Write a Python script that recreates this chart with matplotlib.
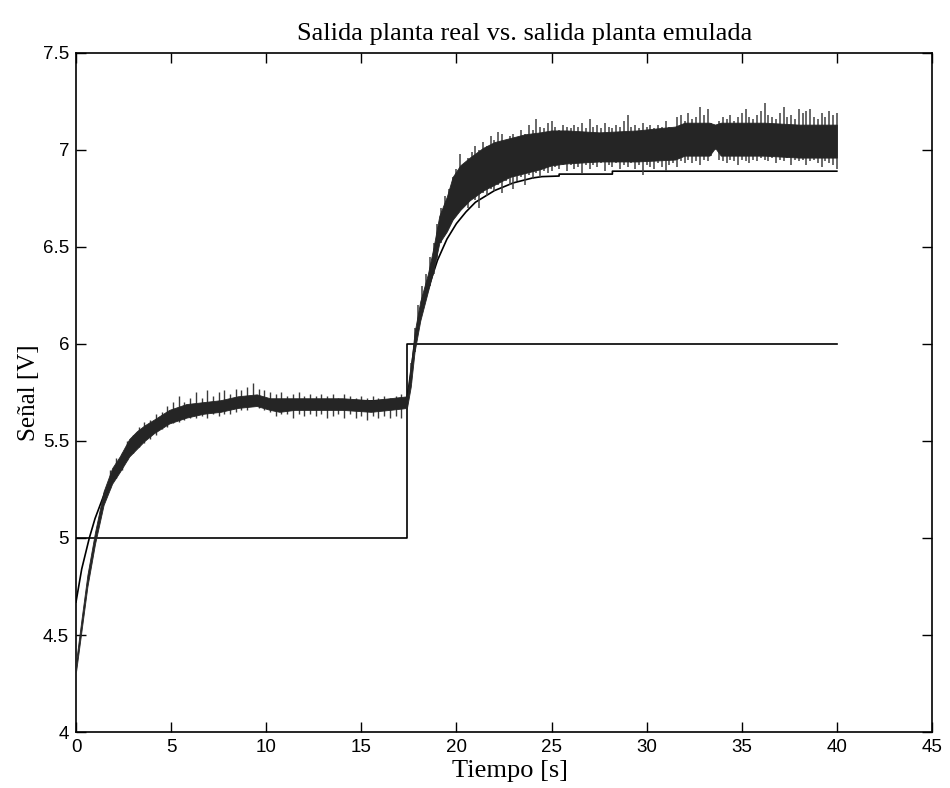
import numpy as np
import matplotlib
matplotlib.use("Agg")
import matplotlib.pyplot as plt

# ---------------- data ----------------
# reference (step) input
t_ref = [0.0, 17.4, 17.4, 40.0]
v_ref = [5.0, 5.0, 6.0, 6.0]

# emulated plant output (smooth line)
t_emul = [0.0, 0.3, 0.7, 1.0, 1.5, 2.0, 2.5, 3.0, 3.5, 4.0, 5.0, 6.0, 7.0, 8.0,
          10.0, 12.0, 17.4, 17.8, 18.2, 18.5, 19.0, 19.5, 20.0, 20.5, 21.0,
          21.5, 22.0, 23.0, 24.0, 24.5, 25.4, 25.4, 28.2, 28.2, 40.0]
v_emul = [4.67, 4.84, 5.00, 5.10, 5.23, 5.33, 5.41, 5.47, 5.52, 5.56, 5.62, 5.66,
          5.68, 5.69, 5.70, 5.70, 5.71, 6.00, 6.18, 6.28, 6.43, 6.54, 6.62, 6.68,
          6.73, 6.76, 6.79, 6.83, 6.855, 6.862, 6.865, 6.875, 6.875, 6.89, 6.89]

# real plant output: dense noisy core band (lower / upper edge)
t_core = [0.0, 0.3, 0.6, 1.0, 1.45, 1.9, 2.3, 2.8, 3.2, 3.6, 4.1, 4.9, 5.8, 6.7,
          7.6, 8.5, 9.5, 10.2, 10.7, 11.5, 12.8, 14.0, 15.5, 16.5, 17.4,
          17.6, 17.8, 18.1, 18.5, 18.8, 19.1, 19.5, 19.8, 20.2, 20.7, 21.4,
          22.0, 22.8, 23.6, 24.4, 25.0, 25.8, 27.5, 29.5, 31.5, 32.0, 33.3,
          33.6, 33.9, 36.2, 38.0, 40.0]
core_lo = [4.31, 4.53, 4.75, 4.97, 5.17, 5.28, 5.34, 5.42, 5.46, 5.50, 5.54, 5.59,
           5.62, 5.64, 5.65, 5.67, 5.68, 5.66, 5.65, 5.66, 5.66, 5.66, 5.65, 5.66,
           5.67, 5.78, 5.96, 6.12, 6.27, 6.38, 6.52, 6.58, 6.64, 6.69, 6.74, 6.79,
           6.82, 6.86, 6.88, 6.90, 6.92, 6.93, 6.94, 6.94, 6.95, 6.97, 6.97, 7.01,
           6.97, 6.97, 6.96, 6.96]
core_hi = [4.36, 4.59, 4.81, 5.03, 5.24, 5.36, 5.42, 5.51, 5.55, 5.58, 5.61, 5.66,
           5.69, 5.70, 5.71, 5.73, 5.74, 5.72, 5.72, 5.72, 5.72, 5.72, 5.71, 5.72,
           5.73, 5.88, 6.06, 6.22, 6.36, 6.50, 6.66, 6.76, 6.86, 6.92, 6.96, 7.01,
           7.04, 7.06, 7.08, 7.09, 7.10, 7.10, 7.09, 7.10, 7.12, 7.14, 7.14, 7.13,
           7.14, 7.14, 7.13, 7.13]

# real plant output: noise excursions, first level (time, low end, high end)
noise1_t = [1.8, 2.1, 2.4, 2.7, 3.0, 3.3, 3.6, 3.9, 4.2, 4.5, 4.8, 5.1, 5.4, 5.7,
            6.0, 6.3, 6.6, 6.9, 7.2, 7.5, 7.8, 8.1, 8.4, 8.7, 9.0, 9.3, 9.6, 9.9,
            10.2, 10.5, 10.8, 11.1, 11.4, 11.7, 12.0, 12.3, 12.6, 12.9, 13.2,
            13.5, 13.8, 14.1, 14.4, 14.7, 15.0, 15.3, 15.6, 15.9, 16.2, 16.5,
            16.8, 17.1]
noise1_lo = [5.26, 5.31, 5.35, 5.40, 5.44, 5.47, 5.49, 5.51, 5.53, 5.56, 5.57, 5.59,
             5.60, 5.61, 5.62, 5.62, 5.63, 5.62, 5.64, 5.63, 5.64, 5.64, 5.65, 5.66,
             5.66, 5.68, 5.67, 5.66, 5.65, 5.63, 5.64, 5.64, 5.62, 5.64, 5.63, 5.64,
             5.63, 5.64, 5.62, 5.63, 5.64, 5.62, 5.64, 5.62, 5.63, 5.61, 5.63, 5.62,
             5.63, 5.62, 5.63, 5.62]
noise1_hi = [5.35, 5.41, 5.44, 5.50, 5.53, 5.57, 5.60, 5.61, 5.64, 5.65, 5.68, 5.70,
             5.73, 5.70, 5.72, 5.75, 5.72, 5.76, 5.73, 5.75, 5.76, 5.74, 5.77, 5.76,
             5.78, 5.80, 5.77, 5.76, 5.75, 5.74, 5.75, 5.73, 5.74, 5.75, 5.73, 5.74,
             5.73, 5.74, 5.73, 5.74, 5.72, 5.74, 5.73, 5.72, 5.73, 5.72, 5.73, 5.72,
             5.73, 5.72, 5.73, 5.74]

# real plant output: noise excursions, second level (time, low end, high end)
noise2_t = [17.6, 17.8, 18.0, 18.2, 18.4, 18.6, 18.8, 19.0, 19.2, 19.4, 19.6, 19.8,
            20.0, 20.2, 20.4, 20.6, 20.8, 21.0, 21.2, 21.4, 21.6, 21.8, 22.0, 22.2,
            22.4, 22.6, 22.8, 23.0, 23.2, 23.4, 23.6, 23.8, 24.0, 24.2, 24.4, 24.6,
            24.8, 25.0, 25.2, 25.4, 25.6, 25.8, 26.0, 26.2, 26.4, 26.6, 26.8, 27.0,
            27.2, 27.4, 27.6, 27.8, 28.0, 28.2, 28.4, 28.6, 28.8, 29.0, 29.2, 29.4,
            29.6, 29.8, 30.0, 30.2, 30.4, 30.6, 30.8, 31.0, 31.2, 31.4, 31.6, 31.8,
            32.0, 32.2, 32.4, 32.6, 32.8, 33.0, 33.2, 33.4, 33.6, 33.8, 34.0, 34.2,
            34.4, 34.6, 34.8, 35.0, 35.2, 35.4, 35.6, 35.8, 36.0, 36.2, 36.4, 36.6,
            36.8, 37.0, 37.2, 37.4, 37.6, 37.8, 38.0, 38.2, 38.4, 38.6, 38.8, 39.0,
            39.2, 39.4, 39.6, 39.8, 40.0]
noise2_lo = [5.80, 5.96, 6.08, 6.16, 6.24, 6.30, 6.36, 6.44, 6.52, 6.56, 6.60, 6.64,
             6.66, 6.70, 6.72, 6.70, 6.75, 6.74, 6.70, 6.78, 6.76, 6.80, 6.79, 6.82,
             6.78, 6.84, 6.82, 6.80, 6.84, 6.86, 6.82, 6.87, 6.85, 6.88, 6.86, 6.89,
             6.88, 6.89, 6.91, 6.90, 6.92, 6.89, 6.92, 6.90, 6.91, 6.88, 6.92, 6.90,
             6.92, 6.91, 6.93, 6.89, 6.92, 6.91, 6.93, 6.90, 6.92, 6.91, 6.93, 6.90,
             6.92, 6.87, 6.92, 6.91, 6.90, 6.93, 6.91, 6.89, 6.92, 6.93, 6.91, 6.94,
             6.93, 6.95, 6.93, 6.94, 6.92, 6.95, 6.94, 6.97, 7.00, 6.95, 6.94, 6.93,
             6.95, 6.94, 6.92, 6.95, 6.94, 6.93, 6.95, 6.94, 6.96, 6.95, 6.94, 6.96,
             6.93, 6.95, 6.94, 6.96, 6.92, 6.95, 6.94, 6.95, 6.92, 6.94, 6.95, 6.93,
             6.91, 6.94, 6.93, 6.92, 6.90]
noise2_hi = [5.90, 6.08, 6.20, 6.30, 6.36, 6.45, 6.52, 6.62, 6.70, 6.76, 6.80, 6.86,
             6.90, 6.98, 6.92, 6.96, 6.99, 7.02, 7.00, 7.04, 7.02, 7.07, 7.05, 7.09,
             7.08, 7.05, 7.07, 7.08, 7.06, 7.10, 7.08, 7.13, 7.10, 7.16, 7.12, 7.11,
             7.14, 7.15, 7.12, 7.10, 7.13, 7.12, 7.11, 7.13, 7.12, 7.14, 7.11, 7.16,
             7.12, 7.13, 7.11, 7.14, 7.12, 7.11, 7.13, 7.12, 7.15, 7.18, 7.12, 7.13,
             7.11, 7.14, 7.12, 7.13, 7.11, 7.13, 7.12, 7.15, 7.12, 7.11, 7.17, 7.18,
             7.15, 7.19, 7.16, 7.17, 7.22, 7.18, 7.21, 7.14, 7.10, 7.15, 7.17, 7.16,
             7.18, 7.15, 7.17, 7.19, 7.21, 7.17, 7.16, 7.18, 7.20, 7.24, 7.18, 7.17,
             7.16, 7.19, 7.22, 7.17, 7.18, 7.16, 7.21, 7.19, 7.20, 7.21, 7.17, 7.16,
             7.19, 7.17, 7.20, 7.18, 7.19]

x_ticks = [0, 5, 10, 15, 20, 25, 30, 35, 40, 45]
y_ticks = [4, 4.5, 5, 5.5, 6, 6.5, 7, 7.5]
y_tick_labels = ["4", "4.5", "5", "5.5", "6", "6.5", "7", "7.5"]

title = "Salida planta real vs. salida planta emulada"
x_label = "Tiempo [s]"
y_label = "Señal [V]"

# ---------------- drawing ----------------
serif = ["Liberation Serif", "DejaVu Serif"]
sans = ["Liberation Sans Narrow", "Liberation Sans", "DejaVu Sans"]

fig = plt.figure(figsize=(9.5, 7.88), dpi=100)
ax = fig.add_axes([0.080, 0.071, 0.901, 0.862])

ax.plot(t_ref, v_ref, color="black", lw=1.2, zorder=2)
ax.plot(t_emul, v_emul, color="black", lw=1.2, zorder=2)
ax.vlines(noise1_t, noise1_lo, noise1_hi, color="#3a3a3a", lw=1.0, zorder=2.8)
ax.vlines(noise2_t, noise2_lo, noise2_hi, color="#404040", lw=1.1, zorder=2.8)
ax.fill_between(t_core, core_lo, core_hi, color="#252525", lw=0.6,
                edgecolor="#252525", zorder=3)

ax.set_xlim(0, 45)
ax.set_ylim(4, 7.5)
ax.set_xticks(x_ticks)
ax.set_yticks(y_ticks)
ax.set_yticklabels(y_tick_labels)
ax.tick_params(direction="in", top=True, right=True, length=7, width=1.0,
               labelsize=13.5, pad=5)
for lab in ax.get_xticklabels() + ax.get_yticklabels():
    lab.set_family(sans)
for s in ax.spines.values():
    s.set_linewidth(1.2)

ax.set_title(title, family=serif, fontsize=19, pad=9, x=0.524)
ax.set_xlabel(x_label, family=serif, fontsize=19, labelpad=3)
ax.xaxis.label.set_x(0.507)
ax.set_ylabel(y_label, family=serif, fontsize=18, labelpad=2)

fig.savefig("out.png", dpi=100, facecolor="white")
